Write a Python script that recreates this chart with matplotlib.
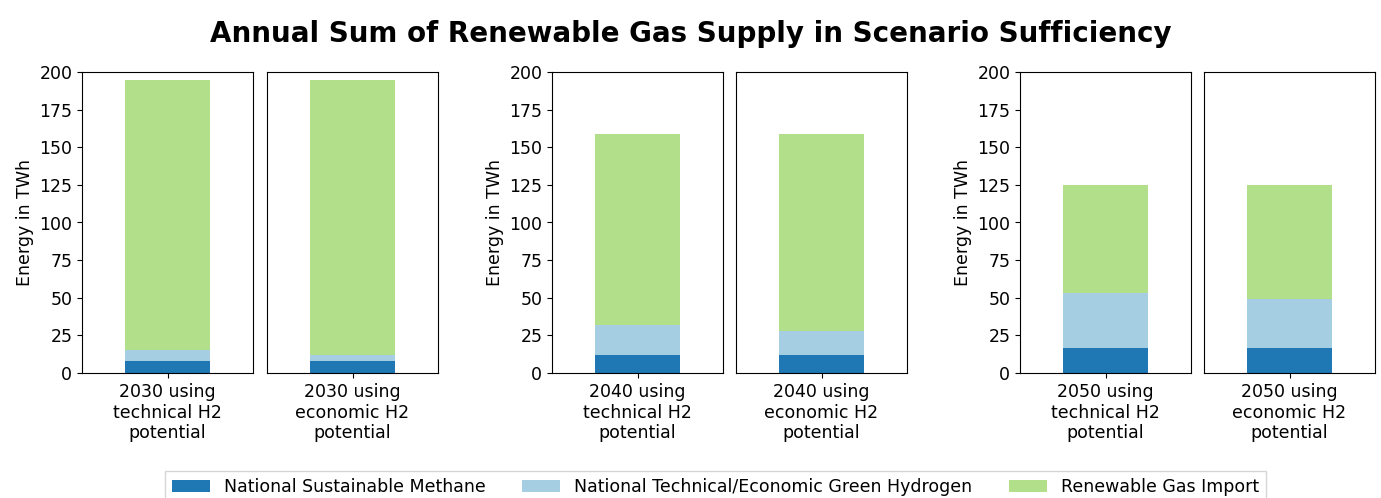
import matplotlib
matplotlib.use("Agg")
import matplotlib.pyplot as plt

years = ["2030", "2040", "2050"]
variants = ["technical", "economic"]

methane = [8.0, 8.0, 12.0, 12.0, 16.4, 16.4]
hydrogen = [7.0, 4.0, 20.0, 16.0, 36.6, 32.6]
imports = [180.0, 183.0, 127.0, 131.0, 72.0, 76.0]

series_names = [
    "National Sustainable Methane",
    "National Technical/Economic Green Hydrogen",
    "Renewable Gas Import",
]
colors = ["#1f78b4", "#a6cee3", "#b2df8a"]

FS = 12.5
W, H = 13.81, 4.98
fig = plt.figure(figsize=(W, H), dpi=100)

lefts = [82, 267, 552, 736, 1020, 1204]
ax_w = 171
top, bottom = 72, 373

handles = None
for i in range(6):
    ax = fig.add_axes([lefts[i] / 1381, 1 - bottom / 498, ax_w / 1381, (bottom - top) / 498])
    year = years[i // 2]
    variant = variants[i % 2]
    vals = [methane[i], hydrogen[i], imports[i]]
    base = 0
    bars = []
    for v, c, n in zip(vals, colors, series_names):
        b = ax.bar([0], [v], bottom=base, width=0.5, color=c, label=n)
        bars.append(b)
        base += v
    handles = bars
    ax.set_xlim(-0.5, 0.5)
    ax.set_ylim(0, 200)
    ax.set_xticks([0])
    ax.set_xticklabels([f"{year} using\n{variant} H2\npotential"], fontsize=FS)
    ax.tick_params(axis="y", labelsize=FS)
    if i % 2 == 0:
        ax.set_ylabel("Energy in TWh", fontsize=FS)
        ax.set_yticks(range(0, 201, 25))
    else:
        ax.set_yticks([])

fig.suptitle("Annual Sum of Renewable Gas Supply in Scenario Sufficiency",
             fontsize=20, fontweight="bold", y=0.96)

fig.legend(handles, series_names, loc="lower center", ncol=3, fontsize=FS,
           bbox_to_anchor=(0.518, -0.028), columnspacing=2.1, handlelength=2.2,
           fancybox=False)

fig.savefig("out.png", dpi=100)
